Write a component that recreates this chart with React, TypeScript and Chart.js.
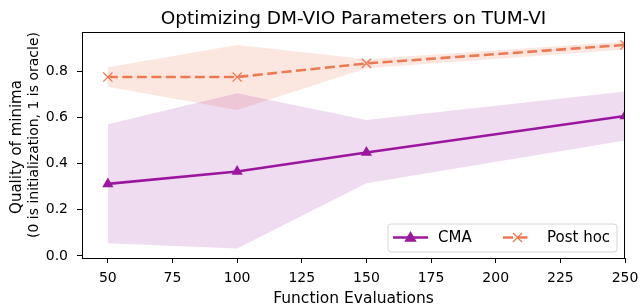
import React, { useEffect, useRef } from "react";
import { Chart, registerables } from "chart.js";

Chart.register(...registerables);

const xValues = [50, 100, 150, 250];
const cmaMean = [0.312, 0.366, 0.448, 0.606];
const cmaUpper = [0.57, 0.705, 0.589, 0.712];
const cmaLower = [0.055, 0.032, 0.315, 0.5];
const postHocMean = [0.775, 0.775, 0.834, 0.914];
const postHocUpper = [0.817, 0.914, 0.852, 0.929];
const postHocLower = [0.733, 0.632, 0.813, 0.894];
const xTicks = [50, 75, 100, 125, 150, 175, 200, 225, 250];
const yTicks = [0.0, 0.2, 0.4, 0.6, 0.8];
const seriesNames = ["CMA", "Post hoc"];

const PURPLE = "#9c179e";
const ORANGE = "#ed7953";
const FONT = "'DejaVu Sans', sans-serif";

const pts = (ys: number[]) => xValues.map((x, i) => ({ x, y: ys[i] }));

function drawTriangle(ctx: CanvasRenderingContext2D, x: number, y: number, r: number) {
  ctx.beginPath();
  ctx.moveTo(x, y - r);
  ctx.lineTo(x + r * 0.95, y + r * 0.65);
  ctx.lineTo(x - r * 0.95, y + r * 0.65);
  ctx.closePath();
  ctx.fill();
}

function drawX(ctx: CanvasRenderingContext2D, x: number, y: number, r: number) {
  ctx.beginPath();
  ctx.moveTo(x - r, y - r);
  ctx.lineTo(x + r, y + r);
  ctx.moveTo(x + r, y - r);
  ctx.lineTo(x - r, y + r);
  ctx.stroke();
}

const decorPlugin = {
  id: "decor",
  afterDatasetsDraw(chart: any) {
    const { ctx, chartArea } = chart;
    ctx.save();
    ctx.strokeStyle = "#000";
    ctx.lineWidth = 1;
    ctx.strokeRect(chartArea.left + 0.5, chartArea.top + 0.5, chartArea.right - chartArea.left - 1, chartArea.bottom - chartArea.top);
    ctx.restore();
  },
  afterDraw(chart: any) {
    const { ctx, chartArea } = chart;
    ctx.save();
    const cx = (chartArea.left + chartArea.right) / 2;
    // title
    ctx.fillStyle = "#000";
    ctx.textAlign = "center";
    ctx.textBaseline = "alphabetic";
    ctx.font = `18.5px ${FONT}`;
    ctx.fillText("Optimizing DM-VIO Parameters on TUM-VI", cx, 24);
    // x title
    ctx.font = `15.5px ${FONT}`;
    ctx.fillText("Function Evaluations", cx, 303);
    // y title
    ctx.textBaseline = "middle";
    ctx.save();
    ctx.translate(17, 147);
    ctx.rotate(-Math.PI / 2);
    ctx.font = `15px ${FONT}`;
    ctx.fillText("Quality of minima", 0, 0);
    ctx.restore();
    ctx.save();
    ctx.translate(34, 135);
    ctx.rotate(-Math.PI / 2);
    ctx.font = `14px ${FONT}`;
    ctx.fillText("(0 is initialization, 1 is oracle)", 0, 0);
    ctx.restore();

    // legend
    const lx = 388, ly = 224, lw = 229, lh = 28, rr = 3;
    ctx.beginPath();
    ctx.moveTo(lx + rr, ly);
    ctx.lineTo(lx + lw - rr, ly);
    ctx.quadraticCurveTo(lx + lw, ly, lx + lw, ly + rr);
    ctx.lineTo(lx + lw, ly + lh - rr);
    ctx.quadraticCurveTo(lx + lw, ly + lh, lx + lw - rr, ly + lh);
    ctx.lineTo(lx + rr, ly + lh);
    ctx.quadraticCurveTo(lx, ly + lh, lx, ly + lh - rr);
    ctx.lineTo(lx, ly + rr);
    ctx.quadraticCurveTo(lx, ly, lx + rr, ly);
    ctx.closePath();
    ctx.fillStyle = "rgba(255,255,255,0.8)";
    ctx.fill();
    ctx.strokeStyle = "#d6d6d6";
    ctx.lineWidth = 1;
    ctx.stroke();

    const cy = ly + lh / 2 - 0.5;
    // CMA sample
    ctx.strokeStyle = PURPLE;
    ctx.fillStyle = PURPLE;
    ctx.lineWidth = 2.6;
    ctx.setLineDash([]);
    ctx.beginPath();
    ctx.moveTo(393, cy);
    ctx.lineTo(428, cy);
    ctx.stroke();
    drawTriangle(ctx, 410.5, cy, 6.5);
    // Post hoc sample
    ctx.strokeStyle = ORANGE;
    ctx.setLineDash([10, 4.5]);
    ctx.beginPath();
    ctx.moveTo(503, cy);
    ctx.lineTo(532, cy);
    ctx.stroke();
    ctx.setLineDash([]);
    ctx.lineWidth = 1.3;
    drawX(ctx, 517.5, cy, 4.5);
    ctx.fillStyle = "#000";
    ctx.textAlign = "left";
    ctx.textBaseline = "middle";
    ctx.font = `15px ${FONT}`;
    ctx.fillText(seriesNames[0], 438, cy + 0.5);
    ctx.fillText(seriesNames[1], 547, cy + 0.5);
    ctx.restore();
  },
};

export default function App() {
  const ref = useRef<HTMLCanvasElement>(null);
  useEffect(() => {
    document.body.style.margin = "0";
    const canvas = ref.current!;
    const chart = new Chart(canvas, {
      type: "line",
      data: {
        datasets: [
          {
            label: "cmaUpper",
            data: pts(cmaUpper),
            borderWidth: 0,
            pointRadius: 0,
            backgroundColor: "rgba(156,23,158,0.15)",
            fill: "+1",
            tension: 0,
          },
          {
            label: "cmaLower",
            data: pts(cmaLower),
            borderWidth: 0,
            pointRadius: 0,
            backgroundColor: "rgba(156,23,158,0.15)",
            fill: false,
            tension: 0,
          },
          {
            label: "phUpper",
            data: pts(postHocUpper),
            borderWidth: 0,
            pointRadius: 0,
            backgroundColor: "rgba(237,121,83,0.18)",
            fill: "+1",
            tension: 0,
          },
          {
            label: "phLower",
            data: pts(postHocLower),
            borderWidth: 0,
            pointRadius: 0,
            backgroundColor: "rgba(237,121,83,0.18)",
            fill: false,
            tension: 0,
          },
          {
            label: seriesNames[0],
            data: pts(cmaMean),
            borderColor: PURPLE,
            backgroundColor: PURPLE,
            borderWidth: 2.6,
            pointStyle: "triangle",
            pointRadius: 6.5,
            pointBorderWidth: 0,
            pointBackgroundColor: PURPLE,
            fill: false,
            tension: 0,
            clip: 0,
          },
          {
            label: seriesNames[1],
            data: pts(postHocMean),
            borderColor: ORANGE,
            backgroundColor: ORANGE,
            borderWidth: 2.6,
            borderDash: [10, 4.5],
            pointStyle: "crossRot",
            pointRadius: 6.5,
            pointBorderWidth: 1.3,
            pointBorderColor: ORANGE,
            fill: false,
            tension: 0,
            clip: 0,
          },
        ],
      },
      options: {
        animation: false,
        responsive: false,
        devicePixelRatio: 1,
        layout: { padding: { top: 32, right: 15, left: 0, bottom: 0 } },
        plugins: {
          legend: { display: false },
          title: { display: false },
          tooltip: { enabled: false },
        },
        scales: {
          x: {
            type: "linear",
            min: 40,
            max: 250,
            afterFit: (s: any) => {
              s.height = 47;
              s.paddingLeft = 0;
              s.paddingRight = 0;
            },
            afterBuildTicks: (s: any) => {
              s.ticks = xTicks.map((v) => ({ value: v }));
            },
            grid: { drawOnChartArea: false, drawTicks: true, tickLength: 5, color: "#000", tickWidth: 1 },
            border: { display: true, color: "#000", width: 1 },
            ticks: {
              color: "#000",
              padding: 7,
              maxRotation: 0,
              font: { family: FONT, size: 14 },
              callback: (v: any) => String(v),
            },
          },
          y: {
            type: "linear",
            min: -0.009,
            max: 0.97,
            afterFit: (s: any) => {
              s.width = 82;
              s.paddingTop = 0;
              s.paddingBottom = 0;
            },
            afterBuildTicks: (s: any) => {
              s.ticks = yTicks.map((v) => ({ value: v }));
            },
            grid: { drawOnChartArea: false, drawTicks: true, tickLength: 5, color: "#000", tickWidth: 1 },
            border: { display: true, color: "#000", width: 1 },
            ticks: {
              color: "#000",
              padding: 9,
              font: { family: FONT, size: 14 },
              callback: (v: any) => Number(v).toFixed(1),
            },
          },
        },
      },
      plugins: [decorPlugin],
    });
    return () => chart.destroy();
  }, []);
  return (
    <div style={{ width: 640, height: 305 }}>
      <canvas ref={ref} width={640} height={305} style={{ display: "block" }} />
    </div>
  );
}
